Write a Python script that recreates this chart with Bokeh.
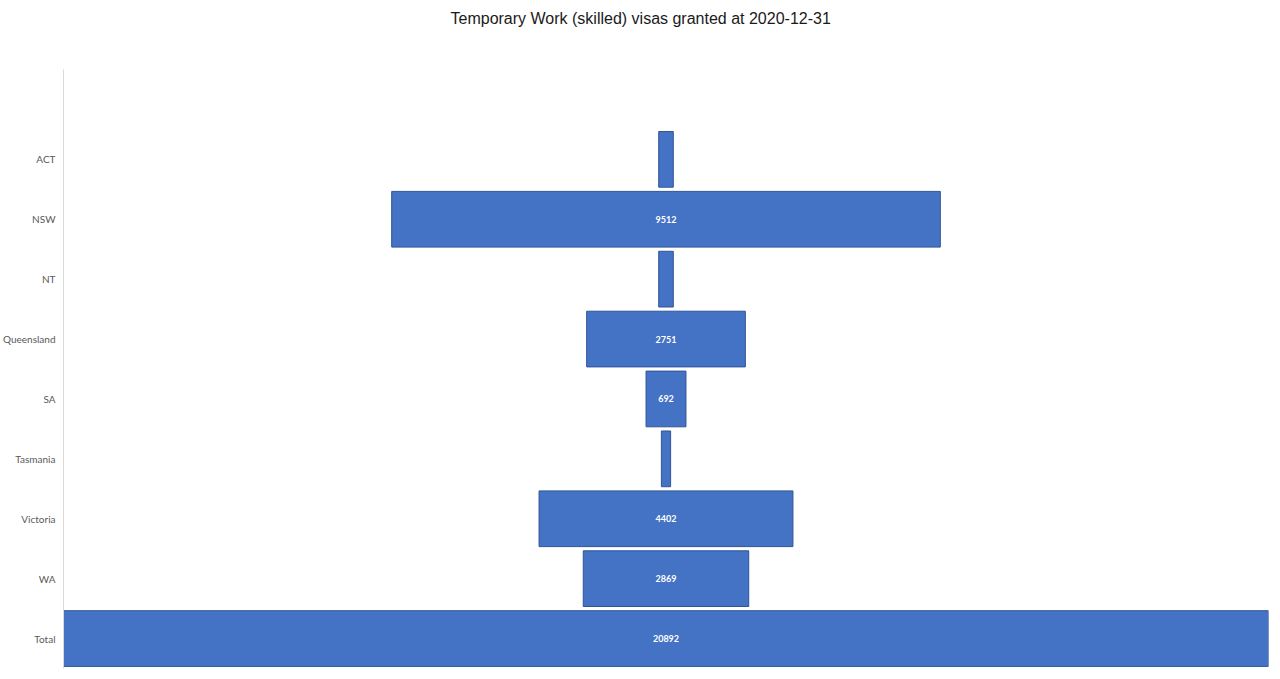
from bokeh.core.properties import value
from bokeh.embed import file_html
from bokeh.models import ColumnDataSource, FixedTicker, Range1d, Title
from bokeh.plotting import figure
from bokeh.resources import INLINE

states = ["ACT", "NSW", "NT", "Queensland", "SA", "Tasmania", "Victoria", "WA", "Total"]
visas = [253, 9512, 253, 2751, 692, 160, 4402, 2869, 20892]
title = "Temporary Work (skilled) visas granted at 2020-12-31"

# Excel hides data labels that do not fit inside the bar
labels = [str(v) if v >= 600 else "" for v in visas]
pos = list(range(len(states) - 1, -1, -1))

source = ColumnDataSource(data=dict(
    pos=pos,
    left=[-v / 2 for v in visas],
    right=[v / 2 for v in visas],
    label=labels,
    mid=[0] * len(visas),
))

half = visas[-1] / 2
p = figure(width=1280, height=679, output_backend="svg", toolbar_location=None,
           x_range=Range1d(-half, half), y_range=Range1d(-0.5, 9.5),
           title=title,
           min_border_left=62, min_border_right=12, min_border_bottom=11,
           min_border_top=68)
# centre on the whole chart, not the plot area
p.title.align = "left"
p.title.offset = 387
p.title.text_font = "Liberation Sans"
p.title.text_font_size = "16px"
p.title.text_font_style = "normal"
p.title.text_color = "#1a1a1a"
p.title.standoff = 15

# empty spacer between the title and the plot area
p.add_layout(Title(text=" ", text_font_size="10px", standoff=22), "above")

p.hbar(y="pos", left="left", right="right", height=0.93, source=source,
       fill_color="#4472C4", line_color="#2F5597", line_width=1)
p.text(x="mid", y="pos", text="label", source=source, text_color="white",
       text_font=value("Lato"), text_font_size="9px", text_font_style="bold",
       text_align="center", text_baseline="middle")

p.xaxis.visible = False
p.xgrid.visible = False
p.ygrid.visible = False
p.outline_line_color = None

p.yaxis.ticker = FixedTicker(ticks=pos)
p.yaxis.major_label_overrides = {i: s for i, s in zip(pos, states)}
p.yaxis.major_tick_line_color = None
p.yaxis.minor_tick_line_color = None
p.yaxis.axis_line_color = "#D9D9D9"
p.yaxis.major_label_text_font = "Lato"
p.yaxis.major_label_text_font_size = "10px"
p.yaxis.major_label_text_color = "#595959"
p.yaxis.major_label_standoff = 2

open("out.html", "w").write(file_html(p, INLINE))
